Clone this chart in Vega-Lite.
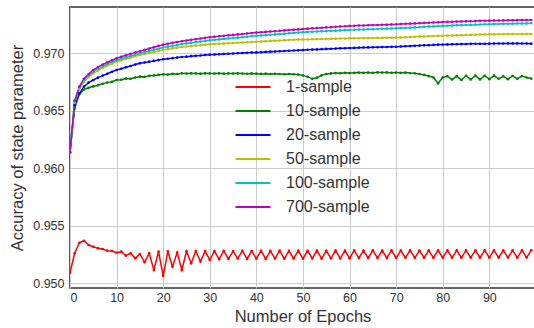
{
  "$schema": "https://vega.github.io/schema/vega-lite/v6.json",
  "width": 465,
  "height": 281,
  "autosize": "none",
  "padding": {"left": 70, "top": 7, "right": 0, "bottom": 40},
  "background": "white",
  "config": {
    "view": {"stroke": "#333333", "strokeWidth": 1.6},
    "font": "Liberation Sans",
    "axis": {
      "labelFont": "Liberation Sans",
      "titleFont": "Liberation Sans",
      "labelFontSize": 12.5,
      "titleFontSize": 16.5,
      "labelColor": "#333333",
      "titleColor": "#333333",
      "titleFontWeight": "normal",
      "domain": false,
      "ticks": false,
      "grid": true,
      "gridColor": "#cccccc",
      "gridWidth": 1
    }
  },
  "data": {
    "values": [
      {"e":0,"1-sample":0.95092,"10-sample":0.96140,"20-sample":0.96140,"50-sample":0.96140,"100-sample":0.96140,"700-sample":0.96140},
      {"e":1,"1-sample":0.95261,"10-sample":0.96520,"20-sample":0.96550,"50-sample":0.96570,"100-sample":0.96580,"700-sample":0.96590},
      {"e":2,"1-sample":0.95353,"10-sample":0.96645,"20-sample":0.96650,"50-sample":0.96690,"100-sample":0.96700,"700-sample":0.96710},
      {"e":3,"1-sample":0.95370,"10-sample":0.96685,"20-sample":0.96710,"50-sample":0.96750,"100-sample":0.96765,"700-sample":0.96778},
      {"e":4,"1-sample":0.95333,"10-sample":0.96700,"20-sample":0.96745,"50-sample":0.96792,"100-sample":0.96808,"700-sample":0.96820},
      {"e":5,"1-sample":0.95318,"10-sample":0.96712,"20-sample":0.96768,"50-sample":0.96826,"100-sample":0.96840,"700-sample":0.96855},
      {"e":6,"1-sample":0.95304,"10-sample":0.96722,"20-sample":0.96788,"50-sample":0.96850,"100-sample":0.96865,"700-sample":0.96880},
      {"e":7,"1-sample":0.95298,"10-sample":0.96735,"20-sample":0.96806,"50-sample":0.96872,"100-sample":0.96887,"700-sample":0.96902},
      {"e":8,"1-sample":0.95284,"10-sample":0.96745,"20-sample":0.96822,"50-sample":0.96892,"100-sample":0.96907,"700-sample":0.96922},
      {"e":9,"1-sample":0.95281,"10-sample":0.96752,"20-sample":0.96840,"50-sample":0.96910,"100-sample":0.96925,"700-sample":0.96940},
      {"e":10,"1-sample":0.95266,"10-sample":0.96768,"20-sample":0.96855,"50-sample":0.96927,"100-sample":0.96940,"700-sample":0.96957},
      {"e":11,"1-sample":0.95275,"10-sample":0.96770,"20-sample":0.96866,"50-sample":0.96939,"100-sample":0.96952,"700-sample":0.96970},
      {"e":12,"1-sample":0.95240,"10-sample":0.96780,"20-sample":0.96878,"50-sample":0.96951,"100-sample":0.96964,"700-sample":0.96983},
      {"e":13,"1-sample":0.95261,"10-sample":0.96778,"20-sample":0.96890,"50-sample":0.96962,"100-sample":0.96976,"700-sample":0.96995},
      {"e":14,"1-sample":0.95217,"10-sample":0.96790,"20-sample":0.96902,"50-sample":0.96974,"100-sample":0.96988,"700-sample":0.97007},
      {"e":15,"1-sample":0.95255,"10-sample":0.96797,"20-sample":0.96913,"50-sample":0.96985,"100-sample":0.97000,"700-sample":0.97018},
      {"e":16,"1-sample":0.95183,"10-sample":0.96795,"20-sample":0.96920,"50-sample":0.96994,"100-sample":0.97010,"700-sample":0.97030},
      {"e":17,"1-sample":0.95260,"10-sample":0.96805,"20-sample":0.96927,"50-sample":0.97003,"100-sample":0.97020,"700-sample":0.97041},
      {"e":18,"1-sample":0.95116,"10-sample":0.96808,"20-sample":0.96934,"50-sample":0.97012,"100-sample":0.97030,"700-sample":0.97052},
      {"e":19,"1-sample":0.95275,"10-sample":0.96812,"20-sample":0.96941,"50-sample":0.97021,"100-sample":0.97040,"700-sample":0.97064},
      {"e":20,"1-sample":0.95064,"10-sample":0.96817,"20-sample":0.96948,"50-sample":0.97030,"100-sample":0.97050,"700-sample":0.97075},
      {"e":21,"1-sample":0.95278,"10-sample":0.96815,"20-sample":0.96953,"50-sample":0.97036,"100-sample":0.97058,"700-sample":0.97083},
      {"e":22,"1-sample":0.95144,"10-sample":0.96822,"20-sample":0.96958,"50-sample":0.97043,"100-sample":0.97065,"700-sample":0.97091},
      {"e":23,"1-sample":0.95268,"10-sample":0.96820,"20-sample":0.96963,"50-sample":0.97049,"100-sample":0.97073,"700-sample":0.97098},
      {"e":24,"1-sample":0.95116,"10-sample":0.96826,"20-sample":0.96968,"50-sample":0.97055,"100-sample":0.97080,"700-sample":0.97105},
      {"e":25,"1-sample":0.95278,"10-sample":0.96824,"20-sample":0.96971,"50-sample":0.97059,"100-sample":0.97086,"700-sample":0.97111},
      {"e":26,"1-sample":0.95174,"10-sample":0.96826,"20-sample":0.96975,"50-sample":0.97063,"100-sample":0.97091,"700-sample":0.97117},
      {"e":27,"1-sample":0.95280,"10-sample":0.96825,"20-sample":0.96978,"50-sample":0.97067,"100-sample":0.97097,"700-sample":0.97123},
      {"e":28,"1-sample":0.95190,"10-sample":0.96823,"20-sample":0.96981,"50-sample":0.97070,"100-sample":0.97102,"700-sample":0.97129},
      {"e":29,"1-sample":0.95280,"10-sample":0.96826,"20-sample":0.96985,"50-sample":0.97074,"100-sample":0.97108,"700-sample":0.97135},
      {"e":30,"1-sample":0.95203,"10-sample":0.96825,"20-sample":0.96988,"50-sample":0.97078,"100-sample":0.97113,"700-sample":0.97140},
      {"e":31,"1-sample":0.95280,"10-sample":0.96824,"20-sample":0.96990,"50-sample":0.97080,"100-sample":0.97117,"700-sample":0.97144},
      {"e":32,"1-sample":0.95210,"10-sample":0.96826,"20-sample":0.96992,"50-sample":0.97082,"100-sample":0.97121,"700-sample":0.97148},
      {"e":33,"1-sample":0.95282,"10-sample":0.96823,"20-sample":0.96994,"50-sample":0.97085,"100-sample":0.97125,"700-sample":0.97152},
      {"e":34,"1-sample":0.95212,"10-sample":0.96825,"20-sample":0.96996,"50-sample":0.97087,"100-sample":0.97129,"700-sample":0.97156},
      {"e":35,"1-sample":0.95280,"10-sample":0.96824,"20-sample":0.96998,"50-sample":0.97089,"100-sample":0.97133,"700-sample":0.97160},
      {"e":36,"1-sample":0.95215,"10-sample":0.96826,"20-sample":0.97000,"50-sample":0.97091,"100-sample":0.97136,"700-sample":0.97164},
      {"e":37,"1-sample":0.95283,"10-sample":0.96824,"20-sample":0.97002,"50-sample":0.97093,"100-sample":0.97140,"700-sample":0.97168},
      {"e":38,"1-sample":0.95212,"10-sample":0.96822,"20-sample":0.97004,"50-sample":0.97096,"100-sample":0.97144,"700-sample":0.97172},
      {"e":39,"1-sample":0.95281,"10-sample":0.96825,"20-sample":0.97006,"50-sample":0.97098,"100-sample":0.97148,"700-sample":0.97176},
      {"e":40,"1-sample":0.95214,"10-sample":0.96823,"20-sample":0.97008,"50-sample":0.97100,"100-sample":0.97152,"700-sample":0.97180},
      {"e":41,"1-sample":0.95283,"10-sample":0.96821,"20-sample":0.97010,"50-sample":0.97102,"100-sample":0.97155,"700-sample":0.97183},
      {"e":42,"1-sample":0.95212,"10-sample":0.96823,"20-sample":0.97012,"50-sample":0.97104,"100-sample":0.97158,"700-sample":0.97186},
      {"e":43,"1-sample":0.95282,"10-sample":0.96820,"20-sample":0.97014,"50-sample":0.97106,"100-sample":0.97161,"700-sample":0.97189},
      {"e":44,"1-sample":0.95215,"10-sample":0.96822,"20-sample":0.97016,"50-sample":0.97109,"100-sample":0.97164,"700-sample":0.97192},
      {"e":45,"1-sample":0.95284,"10-sample":0.96820,"20-sample":0.97018,"50-sample":0.97111,"100-sample":0.97167,"700-sample":0.97195},
      {"e":46,"1-sample":0.95213,"10-sample":0.96818,"20-sample":0.97020,"50-sample":0.97113,"100-sample":0.97171,"700-sample":0.97199},
      {"e":47,"1-sample":0.95282,"10-sample":0.96820,"20-sample":0.97022,"50-sample":0.97115,"100-sample":0.97174,"700-sample":0.97202},
      {"e":48,"1-sample":0.95216,"10-sample":0.96818,"20-sample":0.97024,"50-sample":0.97117,"100-sample":0.97177,"700-sample":0.97205},
      {"e":49,"1-sample":0.95284,"10-sample":0.96815,"20-sample":0.97026,"50-sample":0.97119,"100-sample":0.97180,"700-sample":0.97208},
      {"e":50,"1-sample":0.95214,"10-sample":0.96808,"20-sample":0.97028,"50-sample":0.97120,"100-sample":0.97183,"700-sample":0.97211},
      {"e":51,"1-sample":0.95283,"10-sample":0.96795,"20-sample":0.97030,"50-sample":0.97121,"100-sample":0.97185,"700-sample":0.97214},
      {"e":52,"1-sample":0.95216,"10-sample":0.96778,"20-sample":0.97032,"50-sample":0.97122,"100-sample":0.97187,"700-sample":0.97217},
      {"e":53,"1-sample":0.95285,"10-sample":0.96788,"20-sample":0.97034,"50-sample":0.97123,"100-sample":0.97189,"700-sample":0.97219},
      {"e":54,"1-sample":0.95215,"10-sample":0.96808,"20-sample":0.97036,"50-sample":0.97124,"100-sample":0.97191,"700-sample":0.97222},
      {"e":55,"1-sample":0.95283,"10-sample":0.96820,"20-sample":0.97038,"50-sample":0.97125,"100-sample":0.97193,"700-sample":0.97225},
      {"e":56,"1-sample":0.95217,"10-sample":0.96825,"20-sample":0.97040,"50-sample":0.97126,"100-sample":0.97195,"700-sample":0.97227},
      {"e":57,"1-sample":0.95285,"10-sample":0.96828,"20-sample":0.97041,"50-sample":0.97127,"100-sample":0.97197,"700-sample":0.97230},
      {"e":58,"1-sample":0.95216,"10-sample":0.96827,"20-sample":0.97043,"50-sample":0.97128,"100-sample":0.97199,"700-sample":0.97233},
      {"e":59,"1-sample":0.95284,"10-sample":0.96830,"20-sample":0.97044,"50-sample":0.97129,"100-sample":0.97201,"700-sample":0.97235},
      {"e":60,"1-sample":0.95218,"10-sample":0.96828,"20-sample":0.97046,"50-sample":0.97130,"100-sample":0.97203,"700-sample":0.97238},
      {"e":61,"1-sample":0.95286,"10-sample":0.96830,"20-sample":0.97047,"50-sample":0.97130,"100-sample":0.97204,"700-sample":0.97239},
      {"e":62,"1-sample":0.95219,"10-sample":0.96832,"20-sample":0.97049,"50-sample":0.97131,"100-sample":0.97206,"700-sample":0.97241},
      {"e":63,"1-sample":0.95284,"10-sample":0.96830,"20-sample":0.97050,"50-sample":0.97132,"100-sample":0.97207,"700-sample":0.97242},
      {"e":64,"1-sample":0.95220,"10-sample":0.96833,"20-sample":0.97051,"50-sample":0.97132,"100-sample":0.97209,"700-sample":0.97244},
      {"e":65,"1-sample":0.95286,"10-sample":0.96831,"20-sample":0.97052,"50-sample":0.97133,"100-sample":0.97210,"700-sample":0.97245},
      {"e":66,"1-sample":0.95219,"10-sample":0.96834,"20-sample":0.97053,"50-sample":0.97134,"100-sample":0.97211,"700-sample":0.97246},
      {"e":67,"1-sample":0.95285,"10-sample":0.96832,"20-sample":0.97054,"50-sample":0.97134,"100-sample":0.97213,"700-sample":0.97248},
      {"e":68,"1-sample":0.95221,"10-sample":0.96834,"20-sample":0.97055,"50-sample":0.97135,"100-sample":0.97214,"700-sample":0.97249},
      {"e":69,"1-sample":0.95286,"10-sample":0.96831,"20-sample":0.97056,"50-sample":0.97135,"100-sample":0.97216,"700-sample":0.97251},
      {"e":70,"1-sample":0.95220,"10-sample":0.96833,"20-sample":0.97057,"50-sample":0.97136,"100-sample":0.97217,"700-sample":0.97252},
      {"e":71,"1-sample":0.95285,"10-sample":0.96830,"20-sample":0.97059,"50-sample":0.97138,"100-sample":0.97219,"700-sample":0.97254},
      {"e":72,"1-sample":0.95222,"10-sample":0.96832,"20-sample":0.97061,"50-sample":0.97140,"100-sample":0.97221,"700-sample":0.97256},
      {"e":73,"1-sample":0.95287,"10-sample":0.96828,"20-sample":0.97063,"50-sample":0.97141,"100-sample":0.97223,"700-sample":0.97258},
      {"e":74,"1-sample":0.95221,"10-sample":0.96826,"20-sample":0.97065,"50-sample":0.97143,"100-sample":0.97225,"700-sample":0.97260},
      {"e":75,"1-sample":0.95285,"10-sample":0.96820,"20-sample":0.97067,"50-sample":0.97145,"100-sample":0.97227,"700-sample":0.97262},
      {"e":76,"1-sample":0.95222,"10-sample":0.96812,"20-sample":0.97069,"50-sample":0.97146,"100-sample":0.97230,"700-sample":0.97264},
      {"e":77,"1-sample":0.95286,"10-sample":0.96802,"20-sample":0.97071,"50-sample":0.97148,"100-sample":0.97232,"700-sample":0.97266},
      {"e":78,"1-sample":0.95221,"10-sample":0.96790,"20-sample":0.97073,"50-sample":0.97150,"100-sample":0.97234,"700-sample":0.97268},
      {"e":79,"1-sample":0.95287,"10-sample":0.96739,"20-sample":0.97075,"50-sample":0.97151,"100-sample":0.97236,"700-sample":0.97270},
      {"e":80,"1-sample":0.95222,"10-sample":0.96790,"20-sample":0.97076,"50-sample":0.97153,"100-sample":0.97238,"700-sample":0.97272},
      {"e":81,"1-sample":0.95286,"10-sample":0.96800,"20-sample":0.97077,"50-sample":0.97154,"100-sample":0.97240,"700-sample":0.97273},
      {"e":82,"1-sample":0.95223,"10-sample":0.96772,"20-sample":0.97078,"50-sample":0.97155,"100-sample":0.97241,"700-sample":0.97274},
      {"e":83,"1-sample":0.95287,"10-sample":0.96802,"20-sample":0.97079,"50-sample":0.97157,"100-sample":0.97243,"700-sample":0.97276},
      {"e":84,"1-sample":0.95222,"10-sample":0.96768,"20-sample":0.97080,"50-sample":0.97158,"100-sample":0.97244,"700-sample":0.97277},
      {"e":85,"1-sample":0.95286,"10-sample":0.96805,"20-sample":0.97081,"50-sample":0.97159,"100-sample":0.97246,"700-sample":0.97278},
      {"e":86,"1-sample":0.95223,"10-sample":0.96772,"20-sample":0.97082,"50-sample":0.97160,"100-sample":0.97247,"700-sample":0.97279},
      {"e":87,"1-sample":0.95287,"10-sample":0.96806,"20-sample":0.97082,"50-sample":0.97161,"100-sample":0.97249,"700-sample":0.97280},
      {"e":88,"1-sample":0.95222,"10-sample":0.96772,"20-sample":0.97083,"50-sample":0.97163,"100-sample":0.97250,"700-sample":0.97282},
      {"e":89,"1-sample":0.95286,"10-sample":0.96805,"20-sample":0.97083,"50-sample":0.97164,"100-sample":0.97252,"700-sample":0.97283},
      {"e":90,"1-sample":0.95223,"10-sample":0.96775,"20-sample":0.97084,"50-sample":0.97165,"100-sample":0.97253,"700-sample":0.97284},
      {"e":91,"1-sample":0.95287,"10-sample":0.96806,"20-sample":0.97085,"50-sample":0.97165,"100-sample":0.97254,"700-sample":0.97285},
      {"e":92,"1-sample":0.95223,"10-sample":0.96778,"20-sample":0.97085,"50-sample":0.97166,"100-sample":0.97255,"700-sample":0.97285},
      {"e":93,"1-sample":0.95286,"10-sample":0.96800,"20-sample":0.97085,"50-sample":0.97166,"100-sample":0.97256,"700-sample":0.97286},
      {"e":94,"1-sample":0.95224,"10-sample":0.96775,"20-sample":0.97086,"50-sample":0.97167,"100-sample":0.97257,"700-sample":0.97287},
      {"e":95,"1-sample":0.95287,"10-sample":0.96803,"20-sample":0.97086,"50-sample":0.97167,"100-sample":0.97258,"700-sample":0.97287},
      {"e":96,"1-sample":0.95223,"10-sample":0.96778,"20-sample":0.97086,"50-sample":0.97167,"100-sample":0.97259,"700-sample":0.97288},
      {"e":97,"1-sample":0.95286,"10-sample":0.96802,"20-sample":0.97085,"50-sample":0.97168,"100-sample":0.97259,"700-sample":0.97289},
      {"e":98,"1-sample":0.95224,"10-sample":0.96790,"20-sample":0.97085,"50-sample":0.97168,"100-sample":0.97260,"700-sample":0.97289},
      {"e":99,"1-sample":0.95287,"10-sample":0.96780,"20-sample":0.97084,"50-sample":0.97168,"100-sample":0.97261,"700-sample":0.97290}
    ]
  },
  "transform": [
    {"fold": ["1-sample", "10-sample", "20-sample", "50-sample", "100-sample", "700-sample"], "as": ["series", "acc"]}
  ],
  "mark": {"type": "line", "strokeWidth": 1.5, "clip": true, "point": {"filled": true, "size": 7}},
  "encoding": {
    "x": {
      "field": "e", "type": "quantitative",
      "scale": {"domain": [0, 99.8], "nice": false, "zero": false},
      "axis": {"values": [0, 10, 20, 30, 40, 50, 60, 70, 80, 90], "title": "Number of Epochs", "labelPadding": 3, "titlePadding": 5}
    },
    "y": {
      "field": "acc", "type": "quantitative",
      "scale": {"domain": [0.949591, 0.974026], "nice": false, "zero": false},
      "axis": {"values": [0.950, 0.955, 0.960, 0.965, 0.970], "format": ".3f", "title": "Accuracy of state parameter", "labelPadding": 6, "titlePadding": 7}
    },
    "color": {
      "field": "series", "type": "nominal",
      "scale": {
        "domain": ["1-sample", "10-sample", "20-sample", "50-sample", "100-sample", "700-sample"],
        "range": ["#ff0000", "#008000", "#0000ff", "#bfbf00", "#00bfbf", "#bf00bf"]
      },
      "legend": {
        "title": null,
        "orient": "none",
        "legendX": 175,
        "legendY": 72,
        "padding": 0,
        "symbolType": "M-2.5,0H2.5",
        "symbolSize": 196,
        "symbolStrokeWidth": 2,
        "labelFont": "Liberation Sans",
        "labelFontSize": 16,
        "labelColor": "#333333",
        "labelOffset": 25,
        "rowPadding": 8
      }
    }
  }
}
